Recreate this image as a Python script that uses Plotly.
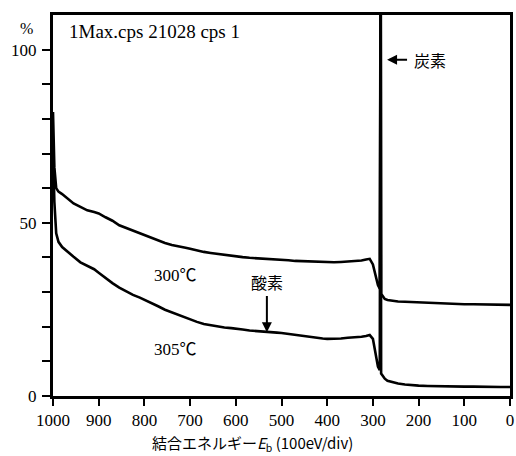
import plotly.graph_objects as go

# Binding energy (eV)
be = [1000, 997, 993, 988, 980, 970, 955, 940, 925, 910, 900, 885, 870, 855, 840,
      825, 810, 800, 785, 770, 755, 740, 725, 710, 700, 685, 670, 655, 640, 625,
      610, 600, 585, 570, 555, 540, 525, 510, 500, 485, 470, 455, 440, 425, 410,
      400, 385, 370, 355, 340, 325, 315, 307, 300, 294, 289, 285, 283, 282, 279,
      274, 268, 258, 245, 230, 215, 200, 180, 160, 140, 120, 100, 80, 60, 40, 20, 0]

# 300 deg C spectrum (%)
s300 = [82, 66, 60, 59, 58.3, 57.2, 55.6, 54.6, 53.6, 53.1, 52.7, 51.6, 50.6, 49.3, 48.5,
        47.8, 47.0, 46.5, 45.7, 45.0, 44.2, 43.6, 43.1, 42.8, 42.5, 42.0, 41.6, 41.3, 41.0, 40.7,
        40.5, 40.4, 40.1, 39.9, 39.8, 39.6, 39.5, 39.4, 39.4, 39.2, 39.0, 38.9, 38.8, 38.7, 38.7,
        38.6, 38.6, 38.7, 38.8, 38.9, 39.1, 39.4, 39.6, 38.0, 35.0, 32.0, 31.0, 140, 29.5, 28.8,
        28.0, 27.7, 27.5, 27.3, 27.2, 27.1, 27.0, 26.9, 26.8, 26.7, 26.6, 26.5, 26.5, 26.4, 26.4, 26.3, 26.3]

# 305 deg C spectrum (%)
s305 = [72, 56, 47, 44.5, 43.0, 41.8, 40.2, 38.6, 37.6, 36.6, 35.6, 34.0, 32.6, 31.3, 30.2,
        29.2, 28.4, 27.8, 27.0, 25.9, 24.9, 24.1, 23.3, 22.5, 22.0, 21.4, 20.8, 20.4, 20.1, 19.8,
        19.6, 19.5, 19.2, 18.9, 18.7, 18.5, 18.4, 18.3, 18.2, 17.9, 17.6, 17.3, 17.0, 16.8, 16.6,
        16.5, 16.5, 16.6, 16.8, 16.9, 17.1, 17.3, 17.6, 16.5, 11.5, 8.5, 7.5, 140, 6.5, 5.8,
        5.0, 4.4, 4.0, 3.6, 3.3, 3.1, 3.0, 2.9, 2.8, 2.8, 2.7, 2.7, 2.7, 2.6, 2.6, 2.6, 2.6]

x_ticks = [1000, 900, 800, 700, 600, 500, 400, 300, 200, 100, 0]
y_ticks = [0, 10, 20, 30, 40, 50, 60, 70, 80, 90, 100]
y_ticktext = ["0", "", "", "", "", "50", "", "", "", "", "100"]

SERIF = "Liberation Serif, Noto Sans CJK JP, serif"
CJK = "Noto Sans CJK JP, Liberation Serif, sans-serif"

fig = go.Figure()
for name, ys in [("300℃", s300), ("305℃", s305)]:
    fig.add_trace(go.Scatter(x=be, y=ys, mode="lines", name=name,
                             line=dict(color="black", width=2.6),
                             hoverinfo="skip", showlegend=False))

fig.update_layout(
    width=516, height=456,
    margin=dict(l=53, r=6, t=15, b=60, autoexpand=False),
    paper_bgcolor="white", plot_bgcolor="white",
    font=dict(family=SERIF, size=17, color="black"),
    xaxis=dict(range=[1000, 0], tickvals=x_ticks, ticktext=[str(v) for v in x_ticks],
               ticks="outside", ticklen=7, tickwidth=2, tickcolor="black",
               showline=True, linewidth=3, linecolor="black", mirror=True,
               showgrid=False, zeroline=False, automargin=False,
               ticklabeloverflow="allow",
               tickfont=dict(family=SERIF, size=17)),
    yaxis=dict(range=[0, 110], tickvals=y_ticks, ticktext=y_ticktext,
               ticks="outside", ticklen=8, tickwidth=2, tickcolor="black",
               showline=True, linewidth=3, linecolor="black", mirror=True,
               showgrid=False, zeroline=False, ticklabelstandoff=2, automargin=False,
               ticklabeloverflow="allow",
               tickfont=dict(family=SERIF, size=17)),
)

annots = [
    dict(x=-0.057, y=(396 - 28) / 381, xref="paper", yref="paper", text="%", showarrow=False,
         xanchor="center", yanchor="middle", font=dict(family=SERIF, size=16)),
    dict(x=0.03, y=(396 - 32) / 381, xref="paper", yref="paper", text="1Max.cps 21028 cps 1",
         xanchor="left", yanchor="middle", showarrow=False, font=dict(family=SERIF, size=19)),
    dict(x=733, y=34.7, text="300℃", showarrow=False, font=dict(family=SERIF, size=17)),
    dict(x=733, y=13.3, text="305℃", showarrow=False, font=dict(family=SERIF, size=17)),
    dict(x=532, y=32.9, text="酸素", showarrow=False, font=dict(family=CJK, size=16)),
    dict(x=532, y=18.4, ax=532, ay=29.3, axref="x", ayref="y", text="", showarrow=True,
         arrowhead=2, arrowsize=1, arrowwidth=2, arrowcolor="black"),
    dict(x=175, y=97.1, text="炭素", showarrow=False, font=dict(family=CJK, size=16)),
    dict(x=269, y=97.1, ax=222, ay=97.1, axref="x", ayref="y", text="", showarrow=True,
         arrowhead=2, arrowsize=1, arrowwidth=2, arrowcolor="black"),
    dict(x=(252 - 53) / 457, y=-0.125, xref="paper", yref="paper",
         text="結合エネルギー<i>E</i><sub>b</sub> (100eV/div)", showarrow=False,
         xanchor="center", yanchor="middle", font=dict(family=CJK, size=15)),
]
fig.update_layout(annotations=annots)

fig.write_html("out.html", config={"displayModeBar": False},
               post_script="document.body.style.margin='0px';document.body.style.padding='0px';")
